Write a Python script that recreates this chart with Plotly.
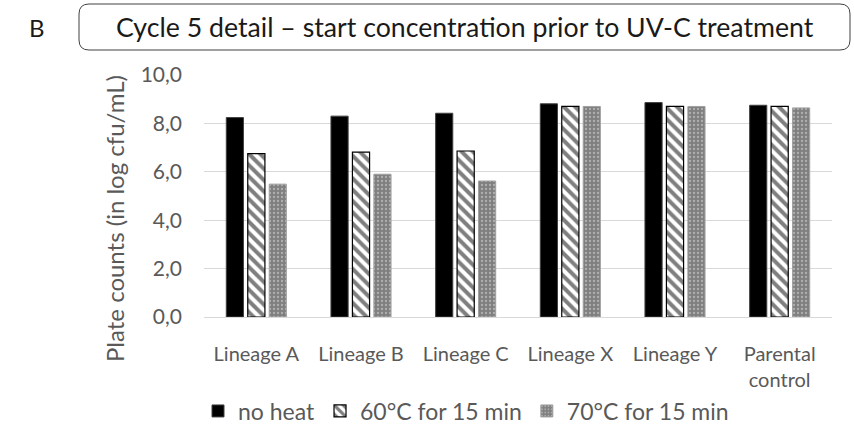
import plotly.graph_objects as go

categories = ["Lineage A", "Lineage B", "Lineage C", "Lineage X", "Lineage Y", "Parental<br>control"]
no_heat = [8.24, 8.30, 8.42, 8.81, 8.86, 8.75]
heat60 = [6.75, 6.81, 6.86, 8.70, 8.70, 8.70]
heat70 = [5.49, 5.90, 5.62, 8.70, 8.70, 8.64]
series_names = ["no heat", "60°C for 15 min", "70°C for 15 min"]

FONT = "Lato"
TXT = "#595959"

# plot area pixel geometry
W, H = 854, 432
L, R, T, B = 204, 22, 75, 115
pw = W - L - R
ph = H - T - B

def px2x(px):
    return (px - L) / pw

def py2y(py):
    return (H - B - py) / ph

fig = go.Figure()
fig.add_trace(go.Bar(
    x=categories, y=no_heat, name=series_names[0],
    marker=dict(color="black", line=dict(color="#404040", width=1)),
))
fig.add_trace(go.Bar(
    x=categories, y=heat60, name=series_names[1],
    marker=dict(color="white", line=dict(color="black", width=1.2),
                pattern=dict(shape="\\", fgcolor="black", bgcolor="white",
                             size=8, solidity=0.5)),
))
fig.add_trace(go.Bar(
    x=categories, y=heat70, name=series_names[2],
    marker=dict(color="#7f7f7f", line=dict(color="#a0a0a0", width=1),
                pattern=dict(shape=".", fgcolor="#e0e0e0", bgcolor="#7f7f7f",
                             size=4, solidity=0.25)),
))

# rounded title box
x0, x1, y0, y1 = 79, 850, 4, 50
r = 10
path = (f"M {px2x(x0 + r)},{py2y(y0)} L {px2x(x1 - r)},{py2y(y0)} "
        f"Q {px2x(x1)},{py2y(y0)} {px2x(x1)},{py2y(y0 + r)} "
        f"L {px2x(x1)},{py2y(y1 - r)} Q {px2x(x1)},{py2y(y1)} {px2x(x1 - r)},{py2y(y1)} "
        f"L {px2x(x0 + r)},{py2y(y1)} Q {px2x(x0)},{py2y(y1)} {px2x(x0)},{py2y(y1 - r)} "
        f"L {px2x(x0)},{py2y(y0 + r)} Q {px2x(x0)},{py2y(y0)} {px2x(x0 + r)},{py2y(y0)} Z")
fig.add_shape(type="path", xref="paper", yref="paper", path=path,
              line=dict(color="#404040", width=1), fillcolor="rgba(0,0,0,0)")

fig.add_annotation(xref="paper", yref="paper", x=px2x(465), y=py2y(27),
                   text="Cycle 5 detail – start concentration prior to UV-C treatment",
                   showarrow=False, font=dict(family=FONT, size=26.7, color="#1a1a1a"),
                   xanchor="center", yanchor="middle")
fig.add_annotation(xref="paper", yref="paper", x=px2x(37), y=py2y(27),
                   text="B", showarrow=False, font=dict(family=FONT, size=24, color="#1a1a1a"),
                   xanchor="center", yanchor="middle")
fig.add_annotation(xref="paper", yref="paper", x=px2x(114), y=py2y(219),
                   text="Plate counts (in log cfu/mL)", textangle=-90, showarrow=False,
                   font=dict(family=FONT, size=24, color=TXT),
                   xanchor="center", yanchor="middle")

fig.update_layout(
    width=W, height=H,
    margin=dict(l=L, r=R, t=T, b=B, pad=0, autoexpand=False),
    paper_bgcolor="white", plot_bgcolor="white",
    barmode="group", bargap=0.385, bargroupgap=0.2,
    separators=", ",
    font=dict(family=FONT, color=TXT),
    showlegend=True,
    legend=dict(orientation="h", xref="container", x=466 / W, xanchor="center",
                yref="container", y=(H - 411) / H, yanchor="middle",
                font=dict(family=FONT, size=23, color=TXT), itemwidth=30,
                bgcolor="rgba(0,0,0,0)"),
    xaxis=dict(showgrid=False, showline=False, ticks="", tickfont=dict(family=FONT, size=20, color=TXT),
               ticklabelstandoff=23, tickangle=0, automargin=False),
    yaxis=dict(range=[0, 10], dtick=2, tickformat=".1f", showgrid=True, gridcolor="#d9d9d9",
               gridwidth=1.3, zeroline=True, zerolinecolor="#d9d9d9", zerolinewidth=1.3,
               showline=False, ticks="", tickfont=dict(family=FONT, size=21, color=TXT),
               ticklabelstandoff=21, automargin=False),
)

fig.write_html("out.html")
